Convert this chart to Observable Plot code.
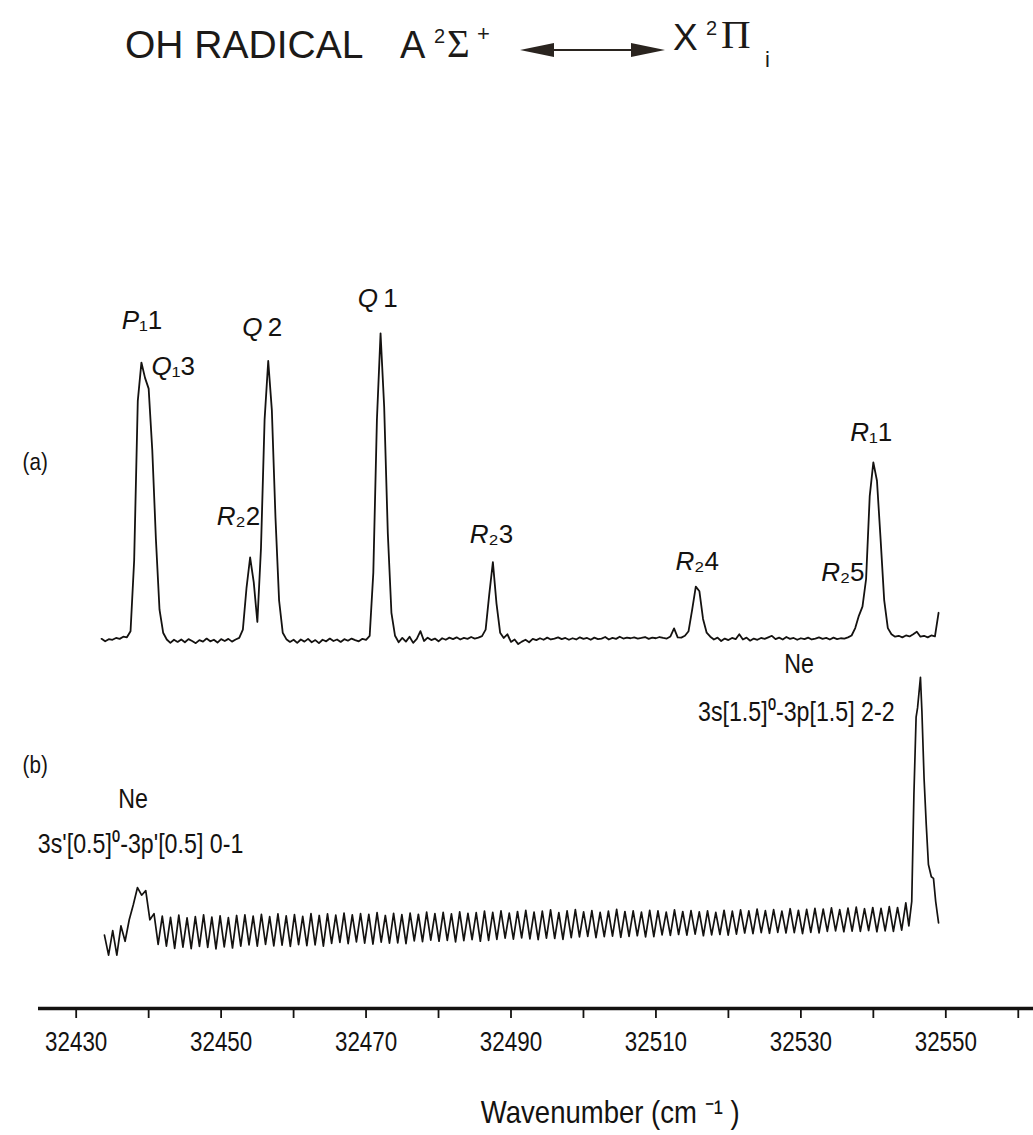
<!DOCTYPE html>
<html><head><meta charset="utf-8">
<script src="https://cdn.jsdelivr.net/npm/d3@7"></script>
<script src="https://cdn.jsdelivr.net/npm/@observablehq/plot@0.6"></script>
<style>
html,body{margin:0;padding:0;background:#fff;}
#page{position:relative;width:1033px;height:1135px;overflow:hidden;background:#fff;}
#title{position:absolute;left:0;top:0;width:1033px;height:110px;font-family:"Liberation Sans",Arial,sans-serif;color:#1c1a18;}
#title span{position:absolute;white-space:nowrap;line-height:1;}
.serif{font-family:"Liberation Serif","Times New Roman",serif;}
#arrowLine{position:absolute;left:548px;top:49px;width:90px;height:2px;background:#2a241f;}
.headL{position:absolute;left:520px;top:43px;width:0;height:0;border-top:7px solid transparent;border-bottom:7px solid transparent;border-right:34px solid #2a241f;}
.headR{position:absolute;left:631px;top:43px;width:0;height:0;border-top:7px solid transparent;border-bottom:7px solid transparent;border-left:34px solid #2a241f;}
#chart{position:absolute;left:0;top:110px;}
</style></head>
<body><div id="page">
<div id="title">
  <span style="left:125px;top:25px;font-size:39px;">OH RADICAL</span>
  <span style="left:400px;top:26px;font-size:38px;">A</span>
  <span style="left:434px;top:26px;font-size:20px;">2</span>
  <span class="serif" style="left:447px;top:24px;font-size:39px;">Σ</span>
  <span style="left:477px;top:23px;font-size:22px;">+</span>
  <div class="headL"></div><div id="arrowLine"></div><div class="headR"></div>
  <span style="left:673px;top:19px;font-size:37px;">X</span>
  <span style="left:706px;top:18px;font-size:20px;">2</span>
  <span class="serif" style="left:721px;top:14px;font-size:41px;">Π</span>
  <span style="left:765px;top:49px;font-size:22px;">i</span>
</div>
<div id="chart"></div>
</div>
<script>
// ---- data ----
// (a) OH excitation spectrum, sampled every 0.5 cm-1 from 32433.5 cm-1 (relative intensity)
const aStart = 32433.5, aStep = 0.5;
const aIntensity = [
  0.5,-0.3,0.4,0.2,0.8,0.5,1.2,1.0,3.0,26,
  78,90.5,85.5,82,62,33,10,2.5,0.3,-0.8,
  0.2,-0.5,0.3,-0.6,0.4,-0.2,-0.9,0.1,-0.4,0.6,
  -0.3,0.2,-0.7,0.4,-0.2,0.5,-0.4,0.3,0.8,3.5,
  17,27,19,6,30,72,91,75,40,13,
  2.5,0.4,-0.5,0.2,-0.8,0.3,-0.4,0.5,-0.6,0.1,
  -0.9,0.2,-0.3,0.6,-0.2,0.3,-0.5,0.4,-0.1,0.6,
  0.1,-0.3,0.5,0.2,1.5,22,72,100,76,35,
  9,1.5,-0.6,0.8,-0.4,1.2,-0.8,0.5,3.0,-0.2,
  0.9,0.1,0.6,-0.3,0.7,0.2,0.9,0.4,1.0,0.3,
  0.8,0.5,1.1,0.6,0.9,1.4,3.5,15,25.5,12,
  2.5,0.8,2.0,-0.5,0.3,-1.2,-0.4,0.2,-0.6,0.5,
  0.1,0.7,0.2,0.9,0.3,0.6,1.0,0.4,0.8,0.2,
  0.7,0.3,1.0,0.5,0.8,0.2,0.9,0.4,0.6,1.1,
  0.3,0.8,0.5,1.2,0.6,0.9,0.7,1.0,0.6,0.8,
  1.1,0.5,0.9,0.7,1.1,0.8,0.6,1.3,3.9,1.0,
  0.9,1.5,3.0,10,17.5,16,7,2.5,1.2,0.3,
  0.9,-0.2,0.6,0.1,0.8,0.4,2.0,0.3,0.9,-0.1,
  0.6,0.2,0.8,0.5,1.0,1.5,0.4,0.9,0.3,1.1,
  0.5,0.8,0.2,0.7,0.4,0.9,0.3,0.6,1.0,0.5,
  0.8,0.3,0.9,0.4,0.7,0.6,1.0,1.6,4,8,
  11,20,47,58,52,33,13,4,2.0,1.2,
  1.5,1.0,1.6,1.3,2.0,2.8,1.2,1.5,1.0,1.6,
  1.3,9
];
// (b) Ne optogalvanic signal with etalon fringes, sampled every half fringe (0.57 cm-1) from 32433.9 cm-1
const bStart = 32433.9, bStep = 0.57;
const bIntensity = [
  -1,-7.5,0.5,-7.5,2,-3,4,9,14.5,12,13.5,4,6,-4,
  5.2,-4.6,4.8,-5.3,5.5,-4.9,4.6,-5.4,5.0,-4.7,5.6,-5.0,4.9,-5.5,5.3,-4.8,4.7,-5.2,5.4,-4.6,
  5.6,-4.2,5.2,-4.6,5.8,-4.0,5.0,-4.5,5.9,-4.3,5.3,-4.7,5.7,-4.1,5.1,-4.4,6.0,-4.2,5.4,-4.6,
  5.9,-3.7,5.5,-3.4,6.2,-3.8,5.6,-3.2,6.0,-3.6,5.8,-3.9,6.3,-3.3,5.4,-3.6,6.1,-3.5,5.7,-3.8,
  6.2,-2.9,5.8,-3.1,6.5,-2.6,6.0,-3.0,6.4,-2.7,5.9,-3.2,6.6,-2.8,6.1,-2.5,6.3,-3.0,6.8,-2.7,
  6.4,-2.4,6.9,-2.0,6.2,-2.3,6.7,-1.9,7.1,-2.2,6.5,-2.5,6.8,-2.0,7.2,-2.1,6.3,-2.4,6.9,-1.8,
  7.3,-1.6,6.6,-1.4,7.0,-1.8,6.4,-1.5,6.8,-1.3,7.4,-1.7,6.7,-1.4,6.9,-1.2,6.5,-1.6,7.1,-1.5,
  6.9,-0.9,6.5,-1.1,7.2,-0.8,6.7,-1.0,7.0,-0.7,6.6,-1.2,6.9,-0.9,6.4,-0.8,7.1,-1.0,6.8,-0.7,
  7.2,-0.3,6.9,-0.5,7.5,-0.2,7.0,-0.4,7.3,-0.1,6.8,-0.3,7.6,-0.2,7.1,-0.5,7.4,-0.1,7.7,-0.3,
  7.5,0.2,7.9,0.4,7.3,0.1,7.8,0.3,8.1,0.2,7.6,0.5,8.0,0.1,7.7,0.4,8.3,0.2,8.0,0.6,
  9.5
];
// Ne 3s[1.5]0-3p[1.5] 2-2 line
const neWavenumber = [32544.9,32545.3,32545.6,32545.9,32546.1,32546.3,32546.5,32546.7,32547.0,32547.3,32547.6,32548.0,32548.3,32548.6,32549.0];
const neIntensity  = [2.0,10,45,70,73,78,83,72,50,35,22,18,17.5,10,3];

// axis ticks
const tickValues = [32430,32440,32450,32460,32470,32480,32490,32500,32510,32520,32530,32540,32550,32560];
const tickLabels = [32430,32450,32470,32490,32510,32530,32550];

// peak assignments
const peakLetters = ["P","Q","Q","Q","R","R","R","R","R"];
const peakSubs    = ["\u2081","\u2081","","","\u2082","\u2082","\u2082","\u2082","\u2081"];
const peakNums    = ["1","3","2","1","2","3","4","5","1"];
const neLabels = ["Ne","3s[1.5]\u2070-3p[1.5] 2-2","Ne","3s'[0.5]\u2070-3p'[0.5] 0-1"];
const panelLabels = ["(a)","(b)"];
const xLabel = "Wavenumber (cm \u207B\u00B9 )";

// ---- build ----
const traceA = aIntensity.map((v, i) => ({wn: aStart + i * aStep, v}));
const traceB = bIntensity.map((v, i) => ({wn: bStart + i * bStep, v}))
  .concat(neWavenumber.map((w, i) => ({wn: w, v: neIntensity[i]})));
const bOffset = -95;

// label placements (wavenumber, intensity units)
const peakAt = [[32438.68,101.3],[32443.2,86.3],[32455.7,99.0],[32471.65,108.5],[32452.0,37.5],[32486.9,31.6],[32515.3,22.8],[32535.4,19.5],[32539.4,65.1]];
const peaks = peakLetters.map((l, i) => ({wn: peakAt[i][0], u: peakAt[i][1], l, rest: peakSubs[i] + (peakSubs[i] ? "" : "\u2009") + peakNums[i]}));
const neAt = [[32527.7,-10.7],[32515.8,-26.1],[32435.8,-54.7],[32424.7,-69.1]];
const neText = neLabels.map((t, i) => ({wn: neAt[i][0], u: neAt[i][1], t}));
const panelAt = [[32422.6,55.4],[32422.6,-43.3]];
const panels = panelLabels.map((t, i) => ({wn: panelAt[i][0], u: panelAt[i][1], t}));

const sans = "'Liberation Sans', Arial, sans-serif";
const ink = "#141210";
const yMin = -119.9;

const chart = Plot.plot({
  width: 1033, height: 1025,
  marginLeft: 38, marginRight: 0, marginTop: 0, marginBottom: 127,
  x: {domain: [32424.8, 32562.1]},
  y: {domain: [yMin, 172.6], axis: null},
  style: {fontFamily: sans, background: "white", color: ink, overflow: "visible"},
  marks: [
    Plot.ruleY([yMin], {stroke: ink, strokeWidth: 3.5}),
    Plot.axisX({ticks: tickValues, tickSize: 10, tickPadding: 13, strokeWidth: 1.8,
      tickFormat: d => tickLabels.includes(d) ? String(d) : "",
      fontSize: 28, label: null, stroke: ink, fill: ink}),
    Plot.line(traceA, {x: "wn", y: "v", stroke: ink, strokeWidth: 1.8, strokeLinejoin: "round"}),
    Plot.line(traceB, {x: "wn", y: d => d.v + bOffset, stroke: ink, strokeWidth: 1.7, strokeLinejoin: "round"}),
    Plot.text(peaks, {x: "wn", y: "u", text: "l", textAnchor: "end", lineAnchor: "bottom", fontStyle: "italic", fontSize: 26, fill: ink}),
    Plot.text(peaks, {x: "wn", y: "u", text: "rest", textAnchor: "start", lineAnchor: "bottom", fontSize: 26, fill: ink}),
    Plot.text(neText, {x: "wn", y: "u", text: "t", textAnchor: "start", lineAnchor: "bottom", fontSize: 27, fill: ink}),
    Plot.text(panels, {x: "wn", y: "u", text: "t", textAnchor: "start", lineAnchor: "bottom", fontSize: 24, fill: ink}),
    Plot.text([{wn: 32503.7, t: xLabel}], {x: "wn", text: "t", frameAnchor: "bottom", dy: 114, lineAnchor: "bottom", fontSize: 32, fill: ink})
  ]
});

// condensed lettering as in the original figure
function condense(sel, k) {
  sel.each(function () {
    let t = this.getAttribute("transform");
    if (!t) {
      const x = this.getAttribute("x") || 0, y = this.getAttribute("y") || 0;
      this.removeAttribute("x"); this.removeAttribute("y");
      t = `translate(${x},${y})`;
    }
    this.setAttribute("transform", t + ` scale(${k},1)`);
  });
}
const tickStrings = new Set(tickLabels.map(String));
const narrowStrings = new Set([...neLabels, ...panelLabels, xLabel]);
condense(d3.select(chart).selectAll("text").filter(function () { return tickStrings.has(this.textContent); }), 0.8);
condense(d3.select(chart).selectAll("text").filter(function () { return narrowStrings.has(this.textContent); }), 0.86);
document.getElementById("chart").appendChild(chart);
</script>
</body></html>
